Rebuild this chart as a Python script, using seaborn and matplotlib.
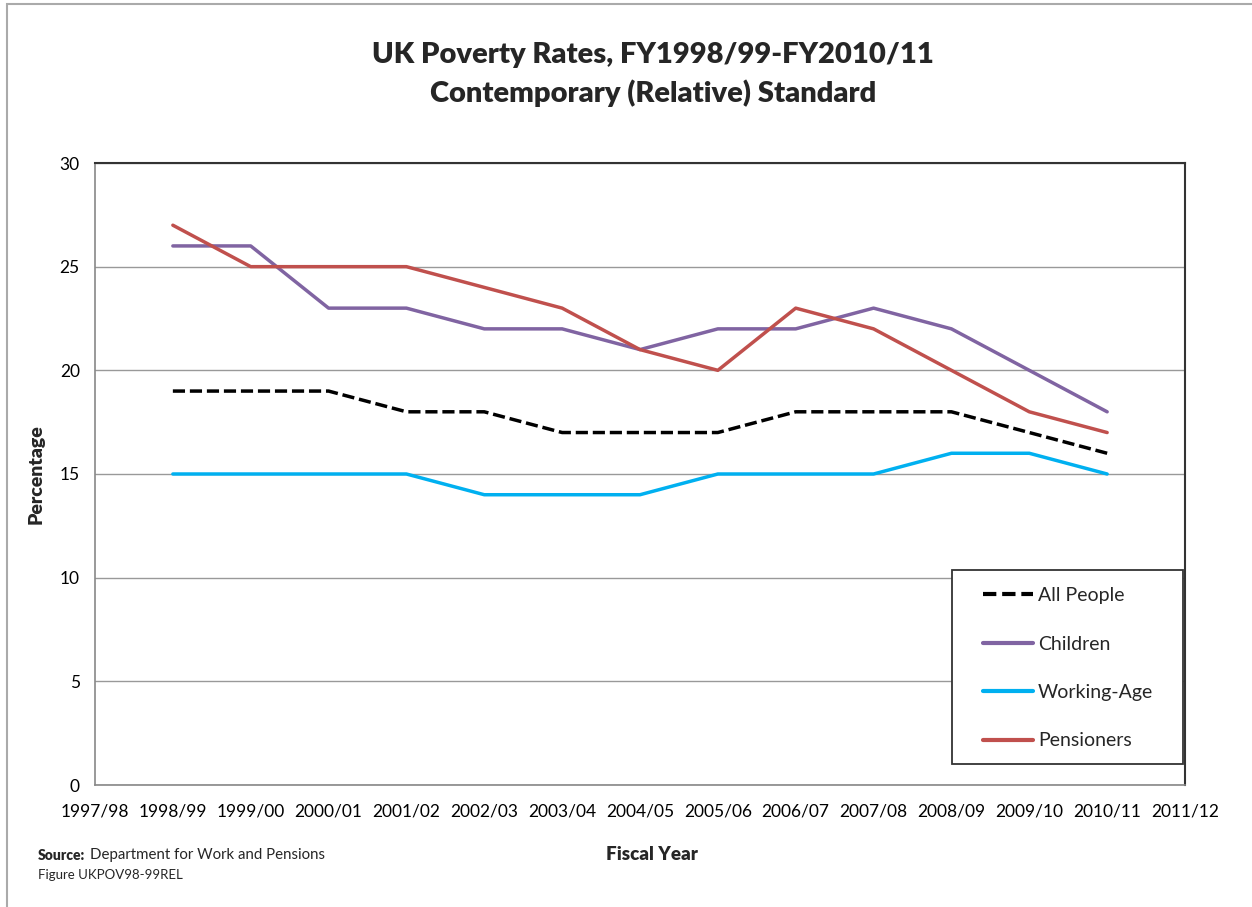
import matplotlib
matplotlib.use("Agg")
import matplotlib.pyplot as plt
import seaborn as sns
import pandas as pd
import numpy as np
from matplotlib.patches import Rectangle
from matplotlib.lines import Line2D

# ---- data ----
axis_years = ["1997/98", "1998/99", "1999/00", "2000/01", "2001/02", "2002/03", "2003/04",
              "2004/05", "2005/06", "2006/07", "2007/08", "2008/09", "2009/10", "2010/11", "2011/12"]
data_years = axis_years[1:-1]
all_people = [19, 19, 19, 18, 18, 17, 17, 17, 18, 18, 18, 17, 16]
children = [26, 26, 23, 23, 22, 22, 21, 22, 22, 23, 22, 20, 18]
working_age = [15, 15, 15, 15, 14, 14, 14, 15, 15, 15, 16, 16, 15]
pensioners = [27, 25, 25, 25, 24, 23, 21, 20, 23, 22, 20, 18, 17]

series_names = ["All People", "Children", "Working-Age", "Pensioners"]
series_vals = [all_people, children, working_age, pensioners]
colors = {"All People": "#000000", "Children": "#8064A2",
          "Working-Age": "#00B0F0", "Pensioners": "#C0504D"}
dashes = {"All People": (3.5, 1.4), "Children": "", "Working-Age": "", "Pensioners": ""}

rows = []
for name, vals in zip(series_names, series_vals):
    for yr, v in zip(data_years, vals):
        rows.append({"year": yr, "pos": axis_years.index(yr), "value": v, "series": name})
df = pd.DataFrame(rows)

sns.set_theme(style="white")
plt.rcParams['font.family'] = ['Lato', 'DejaVu Sans']

W, H = 1252, 907
fig = plt.figure(figsize=(W/100, H/100), dpi=100)
L, R, T, B = 95, 1185, 163, 785
ax = fig.add_axes([L/W, 1-B/H, (R-L)/W, (B-T)/H])

sns.lineplot(data=df, x="pos", y="value", hue="series", style="series",
             hue_order=series_names, style_order=series_names,
             palette=colors, dashes=dashes, linewidth=2.5, ax=ax, legend=False)

ax.set_xlim(0, len(axis_years) - 1)
ax.set_ylim(0, 30)
ax.set_xticks(range(len(axis_years)))
ax.set_xticklabels(axis_years, fontsize=12.5)
ax.set_yticks(range(0, 31, 5))
ax.set_yticklabels([str(v) for v in range(0, 31, 5)], fontsize=12.5)
ax.yaxis.grid(True, color="#999999", linewidth=1)
ax.xaxis.grid(False)
ax.set_axisbelow(True)
ax.tick_params(axis="x", direction="out", length=5, width=1, color="#999999",
               labelcolor="#000000", pad=8)
ax.tick_params(axis="y", direction="out", length=5, width=1, color="#999999",
               labelcolor="#000000", pad=6)
for s in ["left", "bottom"]:
    ax.spines[s].set_color("#888888")
    ax.spines[s].set_linewidth(1.2)
for s in ["top", "right"]:
    ax.spines[s].set_color("#333333")
    ax.spines[s].set_linewidth(1.5)
ax.set_xlabel("")
ax.set_ylabel("Percentage", fontsize=14, fontweight="heavy", labelpad=11)

# legend frame drawn as a box, legend entries placed inside
def ax_x(px):
    return (px - L) / (R - L)

def ax_y(py):
    return (B - py) / (B - T)

box = Rectangle((ax_x(952), ax_y(764)), ax_x(1183) - ax_x(952), ax_y(570) - ax_y(764),
                transform=ax.transAxes, facecolor="white", edgecolor="#333333",
                linewidth=1.3, zorder=5)
ax.add_patch(box)
handles = [Line2D([0], [0], color=colors[n], linewidth=3,
                  linestyle=(0, (3.2, 1.4)) if n == "All People" else "-") for n in series_names]
leg = ax.legend(handles, series_names, loc="upper left",
                bbox_to_anchor=(ax_x(983), ax_y(587)),
                fontsize=14, frameon=False, handlelength=2.55, handletextpad=0.28,
                labelspacing=1.62, borderpad=0, borderaxespad=0)
leg.set_zorder(6)

# titles and notes
fig.text(653/W, 1-55/H, "UK Poverty Rates, FY1998/99-FY2010/11", ha="center", va="center",
         fontsize=21, fontweight="heavy")
fig.text(653/W, 1-93/H, "Contemporary (Relative) Standard", ha="center", va="center",
         fontsize=21, fontweight="heavy")
fig.text(652/W, 1-854/H, "Fiscal Year", ha="center", va="center", fontsize=13.5, fontweight="heavy")
fig.text(38/W, 1-855/H, "Source:", ha="left", va="center", fontsize=10, fontweight="heavy")
fig.text(90/W, 1-855/H, "Department for Work and Pensions", ha="left", va="center", fontsize=10.8)
fig.text(38/W, 1-875/H, "Figure UKPOV98-99REL", ha="left", va="center", fontsize=9.5)

# outer chart border
fig.patches.append(Rectangle((7/W, -0.02), 1.05, 1-4/H + 0.02, transform=fig.transFigure,
                             fill=False, edgecolor="#AAAAAA", linewidth=1.5, figure=fig))

fig.savefig("out.png", dpi=100, facecolor="white")
